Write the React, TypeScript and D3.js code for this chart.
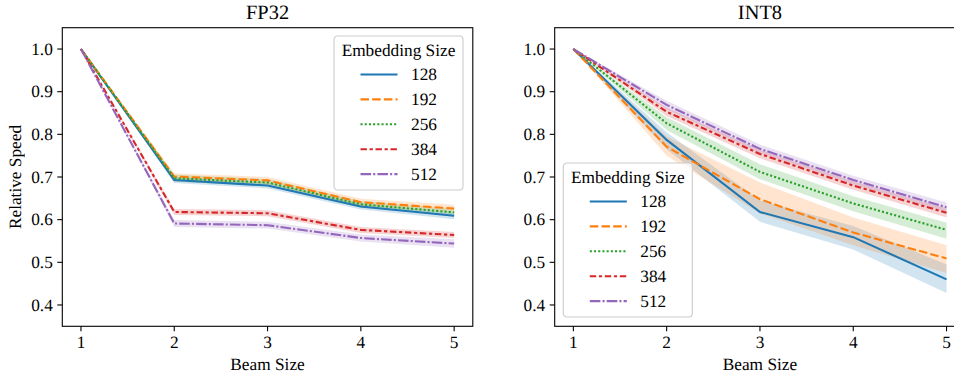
import React, { useEffect, useRef } from 'react'
import * as d3 from 'd3'

const beamSizes = [1, 2, 3, 4, 5]
const embeddingSizes = ['128', '192', '256', '384', '512']
const yTicks = [0.4, 0.5, 0.6, 0.7, 0.8, 0.9, 1.0]

// FP32: mean and band edges, one row per embedding size
const fp32Mean = [
    [1, 0.693, 0.680, 0.631, 0.609],
    [1, 0.701, 0.692, 0.641, 0.626],
    [1, 0.697, 0.687, 0.636, 0.617],
    [1, 0.618, 0.615, 0.576, 0.564],
    [1, 0.591, 0.587, 0.557, 0.544],
]
const fp32Lo = [
    [1, 0.686, 0.673, 0.624, 0.601],
    [1, 0.693, 0.684, 0.633, 0.617],
    [1, 0.689, 0.679, 0.628, 0.609],
    [1, 0.611, 0.608, 0.569, 0.557],
    [1, 0.583, 0.579, 0.549, 0.534],
]
const fp32Hi = [
    [1, 0.700, 0.687, 0.638, 0.617],
    [1, 0.709, 0.700, 0.649, 0.635],
    [1, 0.705, 0.695, 0.644, 0.625],
    [1, 0.625, 0.622, 0.583, 0.571],
    [1, 0.599, 0.595, 0.565, 0.554],
]

// INT8
const int8Mean = [
    [1, 0.787, 0.618, 0.559, 0.460],
    [1, 0.771, 0.648, 0.570, 0.509],
    [1, 0.826, 0.712, 0.638, 0.576],
    [1, 0.853, 0.754, 0.680, 0.616],
    [1, 0.869, 0.766, 0.693, 0.629],
]
const int8Lo = [
    [1, 0.765, 0.595, 0.530, 0.428],
    [1, 0.750, 0.615, 0.540, 0.475],
    [1, 0.810, 0.695, 0.620, 0.555],
    [1, 0.843, 0.744, 0.670, 0.605],
    [1, 0.859, 0.756, 0.683, 0.618],
]
const int8Hi = [
    [1, 0.805, 0.645, 0.585, 0.495],
    [1, 0.795, 0.687, 0.605, 0.540],
    [1, 0.840, 0.730, 0.655, 0.593],
    [1, 0.863, 0.764, 0.690, 0.627],
    [1, 0.879, 0.776, 0.703, 0.640],
]

const colors = ['#1f77b4', '#ff7f0e', '#2ca02c', '#d62728', '#9467bd']
const dashes = ['none', '8.5,3.2', '2.1,2.1', '6.4,2.7,3.2,2.7', '10.6,2.1,2.1,2.1']

const FONT = "'Liberation Serif', 'Times New Roman', serif"

export default function App() {
    const svgRef = useRef<SVGSVGElement>(null)
    const width = 954
    const height = 376

    useEffect(() => {
        if (!svgRef.current) return
        const svg = d3.select(svgRef.current)
        svg.selectAll('*').remove()

        const top = 27.7
        const plotW = 410.5
        const plotH = 298.6

        const panels = [
            { title: 'FP32', left: 62.3, mean: fp32Mean, lo: fp32Lo, hi: fp32Hi, ylabel: true, legend: { x: 334, y: 36 } },
            { title: 'INT8', left: 554.7, mean: int8Mean, lo: int8Lo, hi: int8Hi, ylabel: false, legend: { x: 563.3, y: 163 } },
        ]

        const label = (sel: any, size = 17.3) => sel
            .style('font-family', FONT)
            .style('font-size', size + 'px')
            .style('text-rendering', 'geometricPrecision')

        panels.forEach(p => {
            const x = d3.scaleLinear().domain([0.8, 5.2]).range([p.left, p.left + plotW])
            const y = d3.scaleLinear().domain([0.35, 1.05]).range([top + plotH, top])

            const g = svg.append('g')

            // bands first, lines on top
            p.mean.forEach((_, i) => {
                const area = d3.area<number>()
                    .x((_, j) => x(beamSizes[j]))
                    .y0((_, j) => y(p.lo[i][j]))
                    .y1((_, j) => y(p.hi[i][j]))
                g.append('path')
                    .datum(beamSizes)
                    .attr('d', area)
                    .attr('fill', colors[i])
                    .attr('fill-opacity', 0.2)
            })

            p.mean.forEach((row, i) => {
                const line = d3.line<number>()
                    .x((_, j) => x(beamSizes[j]))
                    .y(d => y(d))
                g.append('path')
                    .datum(row)
                    .attr('d', line)
                    .attr('fill', 'none')
                    .attr('stroke', colors[i])
                    .attr('stroke-width', 2.1)
                    .attr('stroke-dasharray', dashes[i])
            })

            // frame
            g.append('rect')
                .attr('x', p.left).attr('y', top)
                .attr('width', plotW).attr('height', plotH)
                .attr('fill', 'none')
                .attr('stroke', '#000')
                .attr('stroke-width', 1.1)

            // x axis
            beamSizes.forEach(b => {
                g.append('line')
                    .attr('x1', x(b)).attr('x2', x(b))
                    .attr('y1', top + plotH).attr('y2', top + plotH + 5)
                    .attr('stroke', '#000').attr('stroke-width', 1.1)
                label(g.append('text')
                    .attr('x', x(b)).attr('y', 347.5)
                    .attr('text-anchor', 'middle'))
                    .text(String(b))
            })
            label(g.append('text')
                .attr('x', p.left + plotW / 2).attr('y', 369.5)
                .attr('text-anchor', 'middle'))
                .text('Beam Size')

            // y axis
            yTicks.forEach(t => {
                g.append('line')
                    .attr('x1', p.left - 5).attr('x2', p.left)
                    .attr('y1', y(t)).attr('y2', y(t))
                    .attr('stroke', '#000').attr('stroke-width', 1.1)
                label(g.append('text')
                    .attr('x', p.left - 9.5).attr('y', y(t) + 5.8)
                    .attr('text-anchor', 'end'))
                    .text(t.toFixed(1))
            })
            if (p.ylabel) {
                label(g.append('text')
                    .attr('transform', `translate(20.5,${top + plotH / 2}) rotate(-90)`)
                    .attr('text-anchor', 'middle'))
                    .text('Relative Speed')
            }

            // title
            label(g.append('text')
                .attr('x', p.left + plotW / 2).attr('y', 19.3)
                .attr('text-anchor', 'middle'), 20.4)
                .text(p.title)

            // legend
            const lg = g.append('g')
                .attr('transform', `translate(${p.legend.x},${p.legend.y})`)
            lg.append('rect')
                .attr('width', 129).attr('height', 154)
                .attr('rx', 3.5)
                .attr('fill', '#fff').attr('fill-opacity', 0.8)
                .attr('stroke', '#cccccc').attr('stroke-width', 1.1)
            label(lg.append('text')
                .attr('x', 64.5).attr('y', 20)
                .attr('text-anchor', 'middle'))
                .text('Embedding Size')
            embeddingSizes.forEach((e, i) => {
                const cy = 38.5 + i * 24.9
                lg.append('line')
                    .attr('x1', 26.5).attr('x2', 63.5)
                    .attr('y1', cy).attr('y2', cy)
                    .attr('stroke', colors[i])
                    .attr('stroke-width', 2.1)
                    .attr('stroke-dasharray', dashes[i])
                label(lg.append('text')
                    .attr('x', 77).attr('y', cy + 5.8))
                    .text(e)
            })
        })
    }, [])

    return (
        <svg ref={svgRef} width={width} height={height}
            style={{ position: 'absolute', left: 0, top: 0, background: '#fff' }} />
    )
}
